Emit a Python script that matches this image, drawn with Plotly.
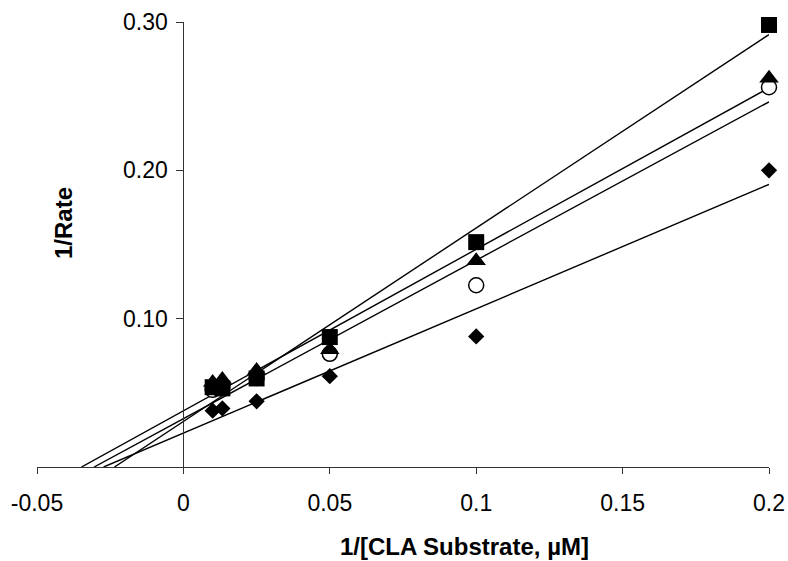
import numpy as np
import plotly.graph_objects as go

# 1/[substrate] values (1/µM)
inv_substrate = [0.01, 0.0133, 0.025, 0.05, 0.1, 0.2]

# 1/Rate for the four series
diamond_vals = [0.038, 0.0395, 0.0443, 0.0612, 0.088, 0.200]
square_vals = [0.0538, 0.053, 0.0597, 0.0876, 0.1516, 0.298]
triangle_vals = [0.057, 0.059, 0.065, 0.079, 0.139, 0.262]
circle_vals = [0.052, 0.054, 0.060, 0.0763, 0.1225, 0.256]

x_ticks = [-0.05, 0, 0.05, 0.1, 0.15, 0.2]
x_tick_text = ["-0.05", "0", "0.05", "0.1", "0.15", "0.2"]
y_ticks = [0, 0.1, 0.2, 0.3]
y_tick_text = ["", "0.10", "0.20", "0.30"]

FONT = "Liberation Sans, Arial, sans-serif"

series = [
    ("diamond", diamond_vals, dict(symbol="diamond", size=12.5, color="black")),
    ("circle", circle_vals, dict(symbol="circle", size=15, color="white",
                                 line=dict(color="black", width=1.5))),
    ("triangle", triangle_vals, dict(symbol="triangle-up", size=17, color="black")),
    ("square", square_vals, dict(symbol="square", size=16, color="black")),
]

fig = go.Figure()

# linear trendlines (least squares), drawn from the x-intercept to x = 0.2
x_arr = np.array(inv_substrate)
for name, vals, _ in series:
    m, b = np.polyfit(x_arr, np.array(vals), 1)
    x0 = -b / m
    x1 = max(inv_substrate)
    fig.add_trace(go.Scatter(x=[x0, x1], y=[m * x0 + b, m * x1 + b], mode="lines",
                             line=dict(color="black", width=1.4),
                             showlegend=False, hoverinfo="skip"))

for name, vals, mk in series:
    fig.add_trace(go.Scatter(x=inv_substrate, y=vals, mode="markers", name=name,
                             marker=mk, showlegend=False, cliponaxis=False))

W, H = 788, 561
ML, MR, MT, MB = 37, 19, 22, 94
pw = W - ML - MR
ph = H - MT - MB


def px_to_paper(px, py):
    return (px - ML) / pw, 1 - (py - MT) / ph


xt, yt = px_to_paper(464, 546)
xr, yr = px_to_paper(63, 223)

fig.update_layout(
    width=W, height=H,
    margin=dict(l=ML, r=MR, t=MT, b=MB),
    paper_bgcolor="white", plot_bgcolor="white",
    font=dict(family=FONT, size=23, color="black"),
    xaxis=dict(range=[-0.05, 0.2], tickvals=x_ticks, ticktext=x_tick_text,
               showline=True, linecolor="#333", linewidth=1, ticks="outside",
               ticklen=6, tickcolor="#333", showgrid=False, zeroline=False,
               tickfont=dict(size=23), domain=[0, 1], automargin=False,
               ticklabelstandoff=9),
    yaxis=dict(range=[0, 0.30], tickvals=y_ticks, ticktext=y_tick_text,
               showline=True, linecolor="#333", linewidth=1, ticks="outside",
               ticklen=7, tickcolor="#333", showgrid=False, zeroline=False,
               anchor="free", position=0.2, tickfont=dict(size=23),
               automargin=False, ticklabelstandoff=4),
    annotations=[
        dict(text="<b>1/[CLA Substrate, µM]</b>", x=xt, y=yt, xref="paper", yref="paper",
             xanchor="center", yanchor="middle", showarrow=False, font=dict(size=24)),
        dict(text="<b>1/Rate</b>", x=xr, y=yr, xref="paper", yref="paper",
             xanchor="center", yanchor="middle", textangle=-90, showarrow=False,
             font=dict(size=24)),
    ],
)

fig.write_html("out.html",
               config={"displayModeBar": False},
               post_script="document.body.style.margin='0';"
                           "document.body.style.overflow='hidden';")
